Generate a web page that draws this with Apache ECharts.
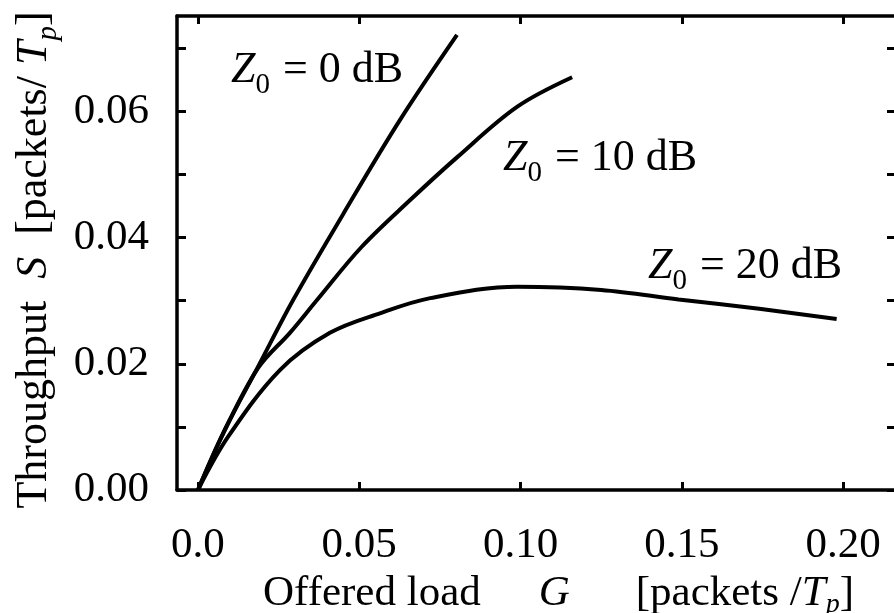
<!DOCTYPE html>
<html>
<head>
<meta charset="utf-8">
<script src="https://cdn.jsdelivr.net/npm/echarts@6/dist/echarts.min.js"></script>
<style>html,body{margin:0;padding:0;background:#fff}#c{width:894px;height:613px}</style>
</head>
<body>
<div id="c"></div>
<script>
// Data: [G, S]
const curve0dB = [[0,0],[0.0078,0.0090],[0.0186,0.0195],[0.0295,0.0301],[0.045,0.0437],[0.0626,0.0586],[0.0803,0.0721]];
const curve10dB = [[0,0],[0.0078,0.0089],[0.0186,0.0193],[0.0285,0.0249],[0.0369,0.0301],[0.0507,0.0385],[0.0657,0.0459],[0.0803,0.0527],[0.0989,0.0607],[0.116,0.0654]];
const curve20dB = [[0,0],[0.0093,0.0084],[0.0254,0.0190],[0.0409,0.0249],[0.0564,0.0280],[0.072,0.0304],[0.099,0.0322],[0.125,0.0317],[0.149,0.0302],[0.174,0.0287],[0.198,0.0271]];
const xTicks = [0, 0.05, 0.10, 0.15, 0.20];
const yTicks = [0, 0.01, 0.02, 0.03, 0.04, 0.05, 0.06, 0.07];
const yLabels = [0, 0.02, 0.04, 0.06];
const seriesNames = ['Z0 = 0 dB', 'Z0 = 10 dB', 'Z0 = 20 dB'];

const FONT = '"Liberation Serif", "DejaVu Serif", serif';
const mkRich = (fs, subDrop) => ({
  i: {fontFamily: FONT, fontStyle: 'italic', fontSize: fs, color: '#000'},
  g: {fontFamily: FONT, fontStyle: 'italic', fontSize: fs, color: '#000', padding: [0, 66, 0, 58]},
  sub: {fontFamily: FONT, fontSize: Math.round(fs * 0.66), color: '#000', verticalAlign: 'bottom', padding: [0, 2, -subDrop, 0]},
  isub: {fontFamily: FONT, fontStyle: 'italic', fontSize: Math.round(fs * 0.66), color: '#000', verticalAlign: 'bottom', padding: [0, 0, -subDrop, 0]},
  n: {fontFamily: FONT, fontSize: fs, color: '#000'}
});
const chart = echarts.init(document.getElementById('c'));
const axisLine = {show: true, onZero: false, lineStyle: {color: '#000', width: 3.5}};
const tickStyle = {color: '#000', width: 3};
const xMin = -0.0065, xMax = 0.2164, yMin = 0, yMax = 0.0751;
const mkLine = (name, data) => ({
  name, type: 'line', data, smooth: 0.35, showSymbol: false,
  lineStyle: {color: '#000', width: 4}, xAxisIndex: 0, yAxisIndex: 0
});
chart.setOption({
  backgroundColor: '#fff',
  animation: false,
  grid: {left: 177, top: 16, width: 719, height: 474, containLabel: false, outerBoundsMode: 'none'},
  xAxis: [{
    type: 'value', position: 'bottom', min: xMin, max: xMax,
    axisLine,
    axisTick: {show: true, inside: true, length: 8, lineStyle: tickStyle, customValues: xTicks},
    axisLabel: {show: true, customValues: xTicks, margin: 34, fontFamily: FONT, fontSize: 43, color: '#000',
      formatter: v => v === 0 ? '0.0' : v.toFixed(2)},
    splitLine: {show: false},
    name: '{n|Offered load}{g|G}{n|[packets /}{i|T}{isub|p}{n|]}',
    nameLocation: 'middle', nameGap: 77,
    nameTextStyle: {fontFamily: FONT, fontSize: 43, color: '#000', rich: mkRich(43, 4), padding: [0, 0, 0, 44]}
  }, {
    type: 'value', position: 'top', min: xMin, max: xMax,
    axisLine,
    axisTick: {show: true, inside: true, length: 8, lineStyle: tickStyle, customValues: xTicks},
    axisLabel: {show: false}, splitLine: {show: false}
  }],
  yAxis: [{
    type: 'value', position: 'left', min: yMin, max: yMax,
    axisLine,
    axisTick: {show: true, inside: true, length: 9, lineStyle: tickStyle, customValues: yTicks},
    axisLabel: {show: true, customValues: yLabels, margin: 28, fontFamily: FONT, fontSize: 43, color: '#000',
      formatter: v => v.toFixed(2)},
    splitLine: {show: false},
    name: '{n|Throughput  }{i|S}{n|  [packets/ }{i|T}{isub|p}{n|]}',
    nameLocation: 'middle', nameGap: 108, nameRotate: 90,
    nameTextStyle: {fontFamily: FONT, fontSize: 44, color: '#000', rich: mkRich(44, 6), padding: [0, 14, 0, 0]}
  }, {
    type: 'value', position: 'right', min: yMin, max: yMax,
    axisLine,
    axisTick: {show: true, inside: true, length: 9, lineStyle: tickStyle, customValues: yTicks},
    axisLabel: {show: false}, splitLine: {show: false}
  }],
  series: [mkLine(seriesNames[0], curve0dB), mkLine(seriesNames[1], curve10dB), mkLine(seriesNames[2], curve20dB)],
  graphic: [
    {type: 'text', x: 231, y: 70, style: {text: '{i|Z}{sub|0}{n| = 0 dB}', rich: mkRich(44, 8), verticalAlign: 'middle'}},
    {type: 'text', x: 503, y: 158, style: {text: '{i|Z}{sub|0}{n| = 10 dB}', rich: mkRich(44, 8), verticalAlign: 'middle'}},
    {type: 'text', x: 648, y: 266, style: {text: '{i|Z}{sub|0}{n| = 20 dB}', rich: mkRich(44, 8), verticalAlign: 'middle'}}
  ]
});
</script>
</body>
</html>
